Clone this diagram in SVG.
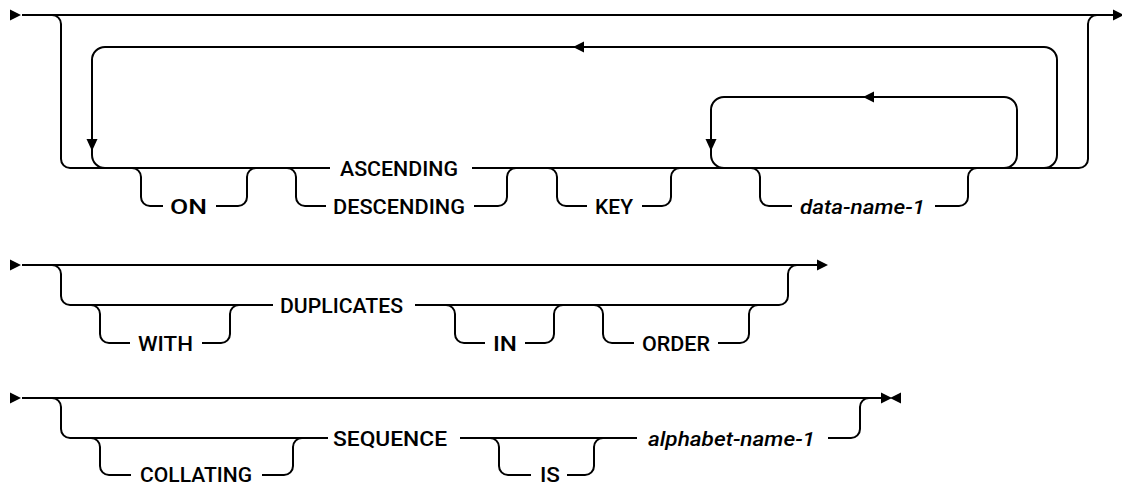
<svg xmlns="http://www.w3.org/2000/svg" width="1122" height="485" viewBox="0 0 1122 485">
<style>
.ln{fill:none;stroke:#000;stroke-width:2}
.ah{fill:#000;stroke:none}
text{font-family:"Roboto","Liberation Sans",sans-serif;font-size:20.5px;font-weight:500;fill:#000}
.it{font-style:italic}
</style>
<defs>
<path id="aR" d="M0,-5.5 L11,0 L0,5.5 Z"/>
<path id="aL" d="M0,0 L11,-5.5 L11,5.5 Z"/>
<path id="aD" d="M-5.5,-12 L5.5,-12 L0,0 Z"/>
</defs>
<g id="connectors">
<!-- row 1 -->
<path class="ln" d="M22,15 H1116"/>
<path class="ln" d="M52,15 a9,9 0 0 1 9,9 V159 a9,9 0 0 0 9,9 H330 M472,168 H1079 a9,9 0 0 0 9,-9 V24 a9,9 0 0 1 9,-9"/>
<path class="ln" d="M1044,168 a13,13 0 0 0 13,-13 V60 a13,13 0 0 0 -13,-13 H105 a13,13 0 0 0 -13,13 V155 a13,13 0 0 0 13,13"/>
<path class="ln" d="M1004,168 a13,13 0 0 0 13,-13 V110 a13,13 0 0 0 -13,-13 H724 a13,13 0 0 0 -13,13 V155 a13,13 0 0 0 13,13"/>
<path class="ln" d="M132,168 a9,9 0 0 1 9,9 V197 a9,9 0 0 0 9,9 H163 M216,206 H238 a9,9 0 0 0 9,-9 V177 a9,9 0 0 1 9,-9"/>
<path class="ln" d="M287,168 a9,9 0 0 1 9,9 V197 a9,9 0 0 0 9,9 H326 M474,206 H498 a9,9 0 0 0 9,-9 V177 a9,9 0 0 1 9,-9"/>
<path class="ln" d="M548,168 a9,9 0 0 1 9,9 V197 a9,9 0 0 0 9,9 H587 M642,206 H662 a9,9 0 0 0 9,-9 V177 a9,9 0 0 1 9,-9"/>
<path class="ln" d="M751,168 a9,9 0 0 1 9,9 V197 a9,9 0 0 0 9,9 H792 M935,206 H959 a9,9 0 0 0 9,-9 V177 a9,9 0 0 1 9,-9"/>
<use href="#aR" class="ah" x="10" y="15"/>
<use href="#aR" class="ah" x="1113" y="15"/>
<use href="#aL" class="ah" x="573" y="47"/>
<use href="#aL" class="ah" x="863" y="97"/>
<use href="#aD" class="ah" x="92" y="151"/>
<use href="#aD" class="ah" x="711" y="151"/>
<!-- row 2 -->
<path class="ln" d="M22,265 H818"/>
<path class="ln" d="M52,265 a9,9 0 0 1 9,9 V296 a9,9 0 0 0 9,9 H273 M415,305 H779 a9,9 0 0 0 9,-9 V274 a9,9 0 0 1 9,-9"/>
<path class="ln" d="M91,305 a9,9 0 0 1 9,9 V334 a9,9 0 0 0 9,9 H130 M202,343 H221 a9,9 0 0 0 9,-9 V314 a9,9 0 0 1 9,-9"/>
<path class="ln" d="M446,305 a9,9 0 0 1 9,9 V334 a9,9 0 0 0 9,9 H485 M525,343 H545 a9,9 0 0 0 9,-9 V314 a9,9 0 0 1 9,-9"/>
<path class="ln" d="M594,305 a9,9 0 0 1 9,9 V334 a9,9 0 0 0 9,9 H634 M718,343 H740 a9,9 0 0 0 9,-9 V314 a9,9 0 0 1 9,-9"/>
<use href="#aR" class="ah" x="10" y="265"/>
<use href="#aR" class="ah" x="817" y="265"/>
<!-- row 3 -->
<path class="ln" d="M22,398 H882"/>
<path class="ln" d="M52,398 a9,9 0 0 1 9,9 V429 a9,9 0 0 0 9,9 H328 M460,438 H637 M828,438 H851 a9,9 0 0 0 9,-9 V407 a9,9 0 0 1 9,-9"/>
<path class="ln" d="M91,438 a9,9 0 0 1 9,9 V466 a9,9 0 0 0 9,9 H131 M262,475 H284 a9,9 0 0 0 9,-9 V447 a9,9 0 0 1 9,-9"/>
<path class="ln" d="M490,438 a9,9 0 0 1 9,9 V466 a9,9 0 0 0 9,9 H531 M567,475 H585 a9,9 0 0 0 9,-9 V447 a9,9 0 0 1 9,-9"/>
<use href="#aR" class="ah" x="10" y="398"/>
<use href="#aR" class="ah" x="881" y="398"/>
<use href="#aL" class="ah" x="890" y="398"/>
</g>
<g id="ascending"><text x="340" y="175.5" textLength="118" lengthAdjust="spacingAndGlyphs">ASCENDING</text></g>
<g id="on"><text x="170" y="213.5" textLength="37" lengthAdjust="spacingAndGlyphs">ON</text></g>
<g id="descending"><text x="333" y="213.5" textLength="132" lengthAdjust="spacingAndGlyphs">DESCENDING</text></g>
<g id="key"><text x="595" y="213.5" textLength="38" lengthAdjust="spacingAndGlyphs">KEY</text></g>
<g id="data-name-1"><text class="it" x="800" y="213.5" textLength="125" lengthAdjust="spacingAndGlyphs">data-name-1</text></g>
<g id="with"><text x="138" y="350.5" textLength="55" lengthAdjust="spacingAndGlyphs">WITH</text></g>
<g id="duplicates"><text x="280" y="312.5" textLength="123" lengthAdjust="spacingAndGlyphs">DUPLICATES</text></g>
<g id="in"><text x="493" y="350.5" textLength="24" lengthAdjust="spacingAndGlyphs">IN</text></g>
<g id="order"><text x="642" y="350.5" textLength="68" lengthAdjust="spacingAndGlyphs">ORDER</text></g>
<g id="collating"><text x="140" y="482" textLength="112" lengthAdjust="spacingAndGlyphs">COLLATING</text></g>
<g id="sequence"><text x="333" y="445.5" textLength="114" lengthAdjust="spacingAndGlyphs">SEQUENCE</text></g>
<g id="is"><text x="540" y="482" textLength="20" lengthAdjust="spacingAndGlyphs">IS</text></g>
<g id="alphabet-name-1"><text class="it" x="648" y="445.5" textLength="167" lengthAdjust="spacingAndGlyphs">alphabet-name-1</text></g>
</svg>
